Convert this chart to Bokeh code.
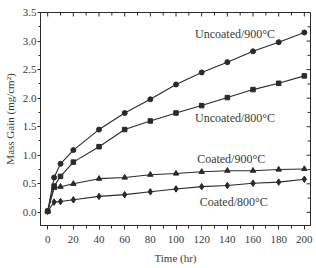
from bokeh.plotting import figure
from bokeh.models import FixedTicker, Range1d, Label
from bokeh.embed import file_html
from bokeh.resources import INLINE

# Oxidation test: mass gain vs exposure time
time_hr = [0, 5, 10, 20, 40, 60, 80, 100, 120, 140, 160, 180, 200]
uncoated_900 = [0.02, 0.61, 0.85, 1.09, 1.45, 1.74, 1.98, 2.24, 2.45, 2.63, 2.82, 2.98, 3.15]
uncoated_800 = [0.02, 0.46, 0.63, 0.88, 1.15, 1.45, 1.60, 1.74, 1.87, 2.01, 2.15, 2.26, 2.39]
coated_900 = [0.02, 0.43, 0.45, 0.50, 0.59, 0.61, 0.66, 0.68, 0.71, 0.73, 0.73, 0.75, 0.76]
coated_800 = [0.02, 0.18, 0.19, 0.22, 0.28, 0.31, 0.36, 0.41, 0.45, 0.47, 0.51, 0.53, 0.58]

x_ticks = [0, 20, 40, 60, 80, 100, 120, 140, 160, 180, 200]
x_minor = list(range(0, 210, 10))
y_ticks = [0.0, 0.5, 1.0, 1.5, 2.0, 2.5, 3.0, 3.5]
y_minor = [i * 0.25 for i in range(0, 15)]
y_labels = {v: f"{v:.1f}" for v in y_ticks}

FONT = "Liberation Serif"
INK = "#2a2a2a"
TXT = "#3a3a3a"

X0, X1 = -5.6, 204.8
Y0, Y1 = -0.23, 3.5

p = figure(width=316, height=268, output_backend="svg", toolbar_location=None,
           x_range=Range1d(X0, X1), y_range=Range1d(Y0, Y1),
           min_border_left=35, min_border_right=6, min_border_top=12, min_border_bottom=43)
p.grid.visible = False
p.outline_line_color = INK
p.outline_line_width = 1
p.background_fill_color = "white"
p.border_fill_color = "white"

series = [
    (uncoated_900, "circle", 5),
    (uncoated_800, "square", 4.5),
    (coated_900, "triangle", 5.5),
    (coated_800, "diamond", 6.5),
]
for ys, marker, size in series:
    p.line(time_hr, ys, line_color=INK, line_width=1.1)
    p.scatter(time_hr, ys, marker=marker, size=size, fill_color=INK, line_color=INK)

def style_axis(ax):
    ax.axis_line_color = INK
    ax.major_tick_line_color = INK
    ax.minor_tick_line_color = INK
    ax.major_label_text_font = FONT
    ax.major_label_text_font_size = "11px"
    ax.major_label_text_color = TXT
    ax.axis_label_text_font = FONT
    ax.axis_label_text_font_size = "11px"
    ax.axis_label_text_font_style = "normal"
    ax.axis_label_text_color = TXT

xa = p.xaxis[0]
xa.ticker = FixedTicker(ticks=x_ticks, minor_ticks=x_minor)
style_axis(xa)
xa.major_tick_in = 0
xa.major_tick_out = 4
xa.minor_tick_in = 0
xa.minor_tick_out = 3
xa.major_label_standoff = 6
xa.axis_label = "Time (hr)"
xa.axis_label_standoff = 6

ya = p.yaxis[0]
ya.ticker = FixedTicker(ticks=y_ticks, minor_ticks=y_minor)
style_axis(ya)
ya.major_tick_in = 0
ya.major_tick_out = 3
ya.minor_tick_in = 0
ya.minor_tick_out = 2
ya.major_label_standoff = 1
ya.major_label_overrides = y_labels
ya.axis_label = "Mass Gain (mg/cm²)"
ya.axis_label_standoff = 4

# inward ticks along the top and right edges of the frame
x_unit_px = 275 / (X1 - X0)
y_unit_px = 213 / (Y1 - Y0)
top_len = [4 / y_unit_px if t in x_ticks else 3 / y_unit_px for t in x_minor]
p.segment(x0=x_minor, y0=[Y1] * len(x_minor), x1=x_minor,
          y1=[Y1 - d for d in top_len], line_color=INK, line_width=1)
right_len = [4 / x_unit_px if v in y_ticks else 3 / x_unit_px for v in y_minor]
p.segment(x0=[X1] * len(y_minor), y0=y_minor, x1=[X1 - d for d in right_len],
          y1=y_minor, line_color=INK, line_width=1)

labels = [
    ("Uncoated/900°C", 146, 3.13),
    ("Uncoated/800°C", 146, 1.65),
    ("Coated/900°C", 143, 0.93),
    ("Coated/800°C", 145, 0.19),
]
for txt, x, y in labels:
    p.add_layout(Label(x=x, y=y, text=txt, text_font=FONT, text_font_size="12px",
                       text_color=TXT, text_align="center", text_baseline="middle"))

open("out.html", "w").write(file_html(p, INLINE))
